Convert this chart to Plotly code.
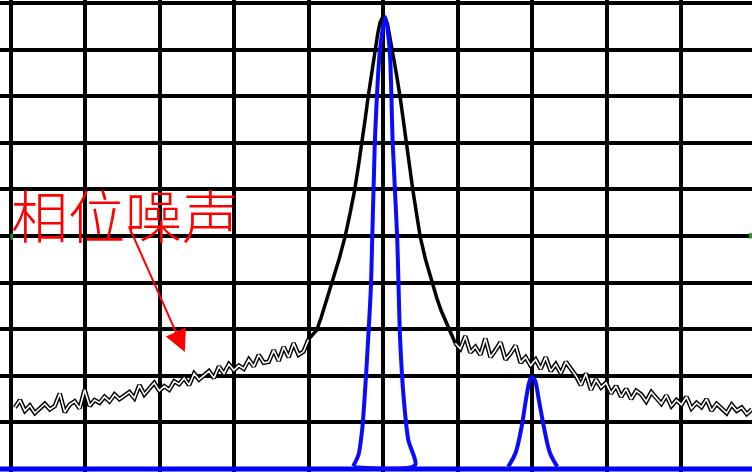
import numpy as np
import plotly.graph_objects as go

# ---- data (grid divisions) ----
left_noise_x = list(np.linspace(0.06, 4.0, 60))
left_noise_y = [1.32, 1.48, 1.25, 1.36, 1.20, 1.30, 1.40, 1.28, 1.35, 1.62, 1.22, 1.38, 1.45, 1.30, 1.70,
                1.35, 1.48, 1.42, 1.55, 1.45, 1.60, 1.50, 1.58, 1.65, 1.52, 1.80, 1.60, 1.72, 1.85, 1.68,
                1.78, 1.70, 1.88, 1.82, 1.95, 1.80, 2.05, 1.92, 2.02, 2.10, 1.95, 2.20, 2.05, 2.25, 2.12,
                2.22, 2.15, 2.35, 2.20, 2.45, 2.28, 2.30, 2.55, 2.32, 2.62, 2.40, 2.70, 2.45, 2.52, 2.78]

carrier_x = [4.0, 4.06, 4.11, 4.17, 4.22, 4.27, 4.32, 4.37, 4.41, 4.45, 4.49, 4.56, 4.62, 4.67, 4.72,
             4.76, 4.80, 4.85, 4.89, 4.93, 4.96, 4.99, 5.01,
             5.03, 5.06, 5.09, 5.13, 5.18, 5.23, 5.27, 5.31, 5.35, 5.40, 5.45, 5.50, 5.57, 5.66,
             5.72, 5.78, 5.84, 5.90, 5.97]
carrier_y = [2.78, 2.88, 2.98, 3.25, 3.50, 3.75, 3.99, 4.25, 4.50, 4.74, 4.98, 5.50, 5.99, 6.50, 7.00,
             7.50, 7.98, 8.50, 8.99, 9.35, 9.58, 9.68, 9.70,
             9.68, 9.55, 9.30, 8.99, 8.48, 7.98, 7.50, 7.00, 6.50, 5.99, 5.48, 4.98, 4.50, 3.99,
             3.68, 3.40, 3.18, 2.98, 2.70]

right_noise_x = list(np.linspace(5.97, 9.95, 60))
right_noise_y = [2.70, 2.58, 2.85, 2.50, 2.62, 2.45, 2.80, 2.40, 2.55, 2.72, 2.35, 2.48, 2.65, 2.28, 2.40,
                 2.22, 2.35, 2.15, 2.40, 2.10, 2.25, 2.05, 2.30, 2.15, 2.00, 1.80, 2.05, 1.70, 1.92, 1.75,
                 1.85, 1.62, 1.78, 1.55, 1.72, 1.50, 1.68, 1.60, 1.45, 1.65, 1.52, 1.40, 1.58, 1.35, 1.48,
                 1.38, 1.55, 1.30, 1.42, 1.33, 1.50, 1.25, 1.40, 1.30, 1.20, 1.38, 1.25, 1.32, 1.18, 1.28]

base_x = [-0.2, 10.0]
base_y = [0.0, 0.0]

main_x = [4.60, 4.67, 4.72, 4.76, 4.80, 4.84, 4.89, 4.96, 5.03, 5.09, 5.13, 5.19, 5.23, 5.28, 5.34, 5.43, 4.62]
main_y = [0.06, 0.30, 0.84, 1.70, 2.77, 3.99, 7.00, 8.99, 9.70, 8.99, 7.00, 4.98, 2.77, 1.48, 0.62, 0.08, 0.04]

side_x = [6.68, 6.78, 6.86, 6.92, 6.97, 7.00, 7.04, 7.09, 7.16, 7.24, 7.34]
side_y = [0.05, 0.35, 0.90, 1.50, 1.90, 1.97, 1.90, 1.50, 0.90, 0.35, 0.05]

label_text = "相位噪声"

fig = go.Figure()

for nx, ny in [(left_noise_x, left_noise_y), (right_noise_x, right_noise_y)]:
    fig.add_trace(go.Scatter(x=nx, y=ny, mode="lines", line=dict(color="black", width=4.5)))
    fig.add_trace(go.Scatter(x=nx, y=ny, mode="lines", line=dict(color="white", width=1.6)))

fig.add_trace(go.Scatter(x=carrier_x, y=carrier_y, mode="lines", line=dict(color="black", width=3.5)))

fig.add_trace(go.Scatter(x=base_x, y=base_y, mode="lines", line=dict(color="#0000ff", width=5)))
fig.add_trace(go.Scatter(x=main_x, y=main_y, mode="lines", line=dict(color="#0a0aff", width=4, shape="spline", smoothing=0.7)))
fig.add_trace(go.Scatter(x=side_x, y=side_y, mode="lines", line=dict(color="#0a0aff", width=4, shape="spline")))

fig.add_annotation(x=-0.02, y=5.5, xref="x", yref="y", text=label_text, showarrow=False,
                   xanchor="left", yanchor="middle",
                   font=dict(family="Noto Sans CJK SC", size=57, color="red", weight=300))
fig.add_annotation(x=2.34, y=2.51, ax=1.58, ay=5.24, xref="x", yref="y", axref="x", ayref="y",
                   text="", showarrow=True, arrowhead=2, arrowsize=2.2, arrowwidth=2, arrowcolor="red")

# small green markers at the mid line
fig.add_shape(type="rect", x0=-0.0, x1=0.035, y0=4.92, y1=5.05, xref="x", yref="y",
              fillcolor="#1a9a1a", line=dict(width=0))
fig.add_shape(type="rect", x0=9.91, x1=9.96, y0=4.95, y1=5.06, xref="x", yref="y",
              fillcolor="#1a9a1a", line=dict(width=0))

axis_common = dict(showgrid=True, gridcolor="black", gridwidth=3.5, dtick=1, tick0=0,
                   showticklabels=False, zeroline=False, showline=False, ticks="")
fig.update_xaxes(range=[-0.141, 9.953], **axis_common)
fig.update_yaxes(range=[-0.064, 10.064], **axis_common)
fig.update_layout(width=752, height=472, margin=dict(l=0, r=0, t=0, b=0),
                  paper_bgcolor="white", plot_bgcolor="white", showlegend=False)

fig.write_html("out.html", config={"displayModeBar": False},
               post_script="document.body.style.margin='0px';document.body.style.overflow='hidden';")
